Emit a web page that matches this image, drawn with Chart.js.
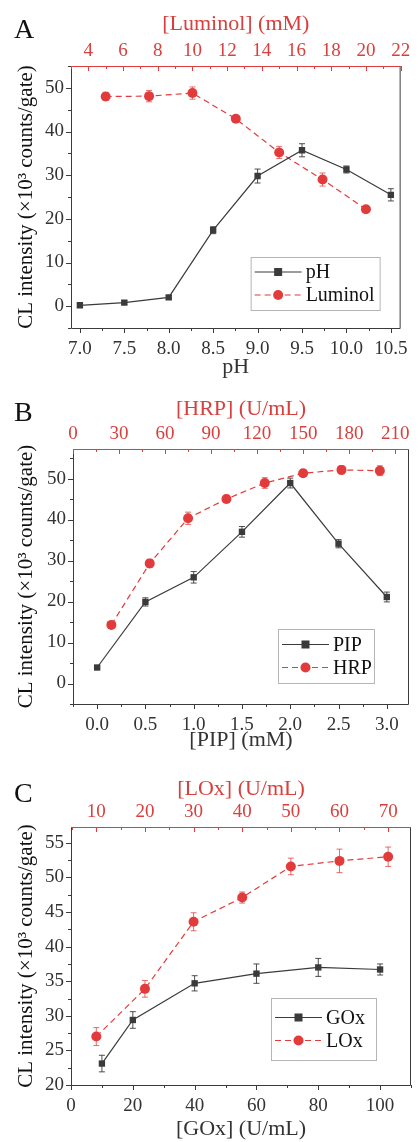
<!DOCTYPE html>
<html>
<head>
<meta charset="utf-8">
<script src="https://cdn.jsdelivr.net/npm/chart.js@4.4.1/dist/chart.umd.min.js"></script>
<style>
  body { margin: 0; background: #fff; width: 418px; height: 1142px; position: relative; overflow: hidden; }
  .panel { position: absolute; left: 0; }
  .tag { position: absolute; left: 14px; font: 28px "Liberation Serif", serif; color: #111; line-height: 1; }
</style>
</head>
<body>
<div class="panel" style="top:0"><canvas id="chartA" width="418" height="380"></canvas></div>
<div class="panel" style="top:380px"><canvas id="chartB" width="418" height="380"></canvas></div>
<div class="panel" style="top:760px"><canvas id="chartC" width="418" height="382"></canvas></div>
<div class="tag" style="top:15px">A</div>
<div class="tag" style="top:398px">B</div>
<div class="tag" style="top:779px">C</div>
<script>
// panel A
const phX = [7.0, 7.5, 8.0, 8.5, 9.0, 9.5, 10.0, 10.5];
const phY = [0.2, 0.8, 2.0, 17.4, 29.8, 35.7, 31.3, 25.5];
const phErr = [0.5, 0.4, 0.4, 0.8, 1.6, 1.5, 0.8, 1.4];
const luminolX = [5, 7.5, 10, 12.5, 15, 17.5, 20];
const luminolY = [48.0, 48.1, 48.8, 42.9, 35.2, 29.0, 22.2];
const luminolErr = [0.9, 1.3, 1.4, 0.5, 1.4, 1.5, 0.5];
const phTicks = [7.0, 7.5, 8.0, 8.5, 9.0, 9.5, 10.0, 10.5];
const luminolTicks = [4, 6, 8, 10, 12, 14, 16, 18, 20, 22];
const yTicksA = [0, 10, 20, 30, 40, 50];

// panel B
const pipX = [0, 0.5, 1.0, 1.5, 2.0, 2.5, 3.0];
const pipY = [3.9, 19.9, 25.9, 37.0, 48.9, 34.1, 21.1];
const pipErr = [0.3, 1.0, 1.4, 1.3, 1.2, 1.0, 1.2];
const hrpX = [25, 50, 75, 100, 125, 150, 175, 200];
const hrpY = [14.3, 29.3, 40.3, 45.0, 48.9, 51.3, 52.1, 51.9];
const hrpErr = [0.4, 1.0, 1.5, 0.9, 1.3, 0.8, 1.0, 1.2];
const pipTicks = [0, 0.5, 1.0, 1.5, 2.0, 2.5, 3.0];
const hrpTicks = [0, 30, 60, 90, 120, 150, 180, 210];
const yTicksB = [0, 10, 20, 30, 40, 50];

// panel C
const goxX = [10, 20, 40, 60, 80, 100];
const goxY = [23.1, 29.4, 34.7, 36.1, 37.0, 36.7];
const goxErr = [1.2, 1.2, 1.1, 1.4, 1.3, 0.8];
const loxX = [10, 20, 30, 40, 50, 60, 70];
const loxY = [27.0, 33.9, 43.6, 47.1, 51.6, 52.4, 53.0];
const loxErr = [1.3, 1.2, 1.3, 0.8, 1.2, 1.7, 1.4];
const goxTicks = [0, 20, 40, 60, 80, 100];
const loxTicks = [10, 20, 30, 40, 50, 60, 70];
const yTicksC = [20, 25, 30, 35, 40, 45, 50, 55];

const BLACK = "#3b3b3b";
const RED = "#e23b3b";
const TEXT = "#333";
const RED_TEXT = "#d8403e";
const FONT = "Liberation Serif";
const Y_TITLE = "CL intensity (\u00d710\u00b3 counts/gate)";

const toPoints = (xs, ys) => xs.map((x, i) => ({ x: x, y: ys[i] }));

function drawTickMarks(ctx, scale, area, color, where) {
  const vals = scale.ticks.map(t => t.value);
  const step = vals[1] - vals[0];
  const marks = vals.map(v => [v, 5]);
  for (let v = vals[0] - step / 2; v <= scale.max + 1e-9; v += step) {
    if (v >= scale.min - 1e-9) marks.push([v, 3]);
  }
  ctx.strokeStyle = color;
  ctx.lineWidth = 1;
  ctx.beginPath();
  marks.forEach(([v, len]) => {
    const p = Math.round(scale.getPixelForValue(v)) + 0.5;
    if (where === "bottom") { ctx.moveTo(p, area.bottom); ctx.lineTo(p, area.bottom + len); }
    if (where === "top") { ctx.moveTo(p, area.top); ctx.lineTo(p, area.top + len); }
    if (where === "left") { ctx.moveTo(area.left, p); ctx.lineTo(area.left - len, p); }
  });
  ctx.stroke();
}

const framePlugin = {
  id: "frame",
  afterDatasetsDraw(chart) {
    const ctx = chart.ctx;
    const ys = chart.scales.y;
    chart.data.datasets.forEach((ds, i) => {
      const meta = chart.getDatasetMeta(i);
      ctx.save();
      ctx.strokeStyle = ds.borderColor;
      ctx.globalAlpha = i === 1 ? 0.75 : 0.9;
      ctx.lineWidth = 1;
      ctx.setLineDash([]);
      ctx.beginPath();
      ds.errors.forEach((e, j) => {
        const px = meta.data[j].x;
        const v = ds.data[j].y;
        const t = ys.getPixelForValue(v + e), b = ys.getPixelForValue(v - e);
        ctx.moveTo(px, t); ctx.lineTo(px, b);
        ctx.moveTo(px - 3, t); ctx.lineTo(px + 3, t);
        ctx.moveTo(px - 3, b); ctx.lineTo(px + 3, b);
      });
      ctx.stroke();
      ctx.restore();
    });
  },
  afterDraw(chart, args, opts) {
    const ctx = chart.ctx, a = chart.chartArea;
    ctx.save();
    // frame
    ctx.lineWidth = 1;
    ctx.strokeStyle = BLACK;
    ctx.beginPath();
    ctx.moveTo(a.left + 0.5, a.top); ctx.lineTo(a.left + 0.5, a.bottom + 0.5);
    ctx.lineTo(a.right - 0.5, a.bottom + 0.5); ctx.lineTo(a.right - 0.5, a.top);
    ctx.stroke();
    ctx.strokeStyle = RED;
    ctx.beginPath();
    ctx.moveTo(a.left, a.top + 0.5); ctx.lineTo(a.right, a.top + 0.5);
    ctx.stroke();
    drawTickMarks(ctx, chart.scales.x, a, BLACK, "bottom");
    drawTickMarks(ctx, chart.scales.x2, a, RED, "top");
    drawTickMarks(ctx, chart.scales.y, a, BLACK, "left");

    // legend box
    const lg = opts.legend;
    const bx = a.right - lg.right - lg.w, by = a.bottom - lg.bottom - lg.h;
    ctx.fillStyle = "#fff";
    ctx.fillRect(bx, by, lg.w, lg.h);
    ctx.strokeStyle = "#b5b5b5";
    ctx.strokeRect(bx + 0.5, by + 0.5, lg.w, lg.h);
    chart.data.datasets.forEach((ds, i) => {
      const cy = by + lg.h / 2 + (i === 0 ? -11.5 : 11.5);
      const x0 = bx + 4, x1 = bx + 4 + lg.sample;
      ctx.strokeStyle = ds.borderColor;
      ctx.lineWidth = 1.2;
      ctx.setLineDash(ds.borderDash || []);
      ctx.beginPath(); ctx.moveTo(x0, cy); ctx.lineTo(x1, cy); ctx.stroke();
      ctx.setLineDash([]);
      ctx.fillStyle = ds.backgroundColor;
      const mx = (x0 + x1) / 2;
      if (ds.pointStyle === "rect") {
        ctx.fillRect(mx - 4, cy - 4, 8, 8);
      } else {
        ctx.beginPath(); ctx.arc(mx, cy, 5, 0, Math.PI * 2); ctx.fill();
      }
      ctx.fillStyle = "#111";
      ctx.font = "20px " + FONT;
      ctx.textBaseline = "middle";
      ctx.textAlign = "left";
      ctx.fillText(ds.label, x1 + 4, cy + 1);
    });
    ctx.restore();
  }
};

function xAxis(position, min, max, ticks, dec, title, color, size, titlePad) {
  return {
    type: "linear",
    position: position,
    min: min,
    max: max,
    afterBuildTicks: s => { s.ticks = ticks.map(v => ({ value: v })); },
    afterFit: s => { s.height = size; },
    grid: { display: false, drawTicks: false },
    border: { display: false },
    ticks: {
      color: color,
      font: { family: FONT, size: 19 },
      padding: position === "top" ? 4 : 10,
      maxRotation: 0,
      autoSkip: false,
      callback: v => v.toFixed(dec)
    },
    title: {
      display: true,
      text: title,
      color: color,
      font: { family: FONT, size: 22 },
      padding: position === "top" ? { top: titlePad, bottom: 0 } : { top: 0, bottom: titlePad }
    }
  };
}

function makeChart(id, p) {
  new Chart(document.getElementById(id), {
    type: "line",
    data: {
      datasets: [
        {
          label: p.names[0],
          data: toPoints(p.blackX, p.blackY),
          errors: p.blackErr,
          xAxisID: "x",
          borderColor: BLACK,
          backgroundColor: BLACK,
          borderWidth: 1.2,
          pointStyle: "rect",
          pointRadius: 4.5,
          pointBorderWidth: 0
        },
        {
          label: p.names[1],
          data: toPoints(p.redX, p.redY),
          errors: p.redErr,
          xAxisID: "x2",
          borderColor: RED,
          backgroundColor: RED,
          borderWidth: 1.2,
          borderDash: [6, 4],
          pointStyle: "circle",
          pointRadius: 5,
          pointBorderWidth: 0
        }
      ]
    },
    options: {
      responsive: false,
      animation: false,
      devicePixelRatio: 1,
      layout: { padding: { right: p.padRight, left: 0, top: 0, bottom: 0 } },
      plugins: {
        legend: { display: false },
        tooltip: { enabled: false },
        frame: { legend: p.legend }
      },
      scales: {
        x: xAxis("bottom", p.xMin, p.xMax, p.xTicks, p.xDec, p.xTitle, TEXT, p.bottomH, p.bottomPad),
        x2: xAxis("top", p.x2Min, p.x2Max, p.x2Ticks, 0, p.x2Title, RED_TEXT, p.topH, p.topPad),
        y: {
          type: "linear",
          position: "left",
          min: p.yMin,
          max: p.yMax,
          afterBuildTicks: s => { s.ticks = p.yTicks.map(v => ({ value: v })); },
          afterFit: s => { s.width = p.leftW; },
          grid: { display: false, drawTicks: false },
          border: { display: false },
          ticks: { color: TEXT, font: { family: FONT, size: 19 }, padding: 7 },
          title: {
            display: true,
            text: Y_TITLE,
            color: "#111",
            font: { family: FONT, size: 21 },
            padding: { top: 14, bottom: 0 }
          }
        }
      }
    },
    plugins: [framePlugin]
  });
}

makeChart("chartA", {
  names: ["pH", "Luminol"],
  blackX: phX, blackY: phY, blackErr: phErr,
  redX: luminolX, redY: luminolY, redErr: luminolErr,
  xMin: 6.9, xMax: 10.61, xTicks: phTicks, xDec: 1, xTitle: "pH",
  x2Min: 3, x2Max: 22, x2Ticks: luminolTicks, x2Title: "[Luminol] (mM)",
  yMin: -5, yMax: 55, yTicks: yTicksA,
  leftW: 71, topH: 66, bottomH: 52, padRight: 12, topPad: 11, bottomPad: 0,
  legend: { right: 21, bottom: 18, w: 129, h: 53, sample: 47 }
});

makeChart("chartB", {
  names: ["PIP", "HRP"],
  blackX: pipX, blackY: pipY, blackErr: pipErr,
  redX: hrpX, redY: hrpY, redErr: hrpErr,
  xMin: -0.25, xMax: 3.23, xTicks: pipTicks, xDec: 1, xTitle: "[PIP] (mM)",
  x2Min: 0, x2Max: 219, x2Ticks: hrpTicks, x2Title: "[HRP] (U/mL)",
  yMin: -5, yMax: 57.2, yTicks: yTicksB,
  leftW: 73, topH: 69, bottomH: 56, padRight: 9, topPad: 16, bottomPad: 7,
  legend: { right: 35, bottom: 21, w: 96, h: 54, sample: 47 }
});

makeChart("chartC", {
  names: ["GOx", "LOx"],
  blackX: goxX, blackY: goxY, blackErr: goxErr,
  redX: loxX, redY: loxY, redErr: loxErr,
  xMin: 0, xMax: 110, xTicks: goxTicks, xDec: 0, xTitle: "[GOx] (U/mL)",
  x2Min: 4.8, x2Max: 74.7, x2Ticks: loxTicks, x2Title: "[LOx] (U/mL)",
  yMin: 20, yMax: 57.3, yTicks: yTicksC,
  leftW: 71, topH: 67, bottomH: 57, padRight: 7, topPad: 16, bottomPad: 0,
  legend: { right: 35, bottom: 25, w: 105, h: 62, sample: 47 }
});
</script>
</body>
</html>
